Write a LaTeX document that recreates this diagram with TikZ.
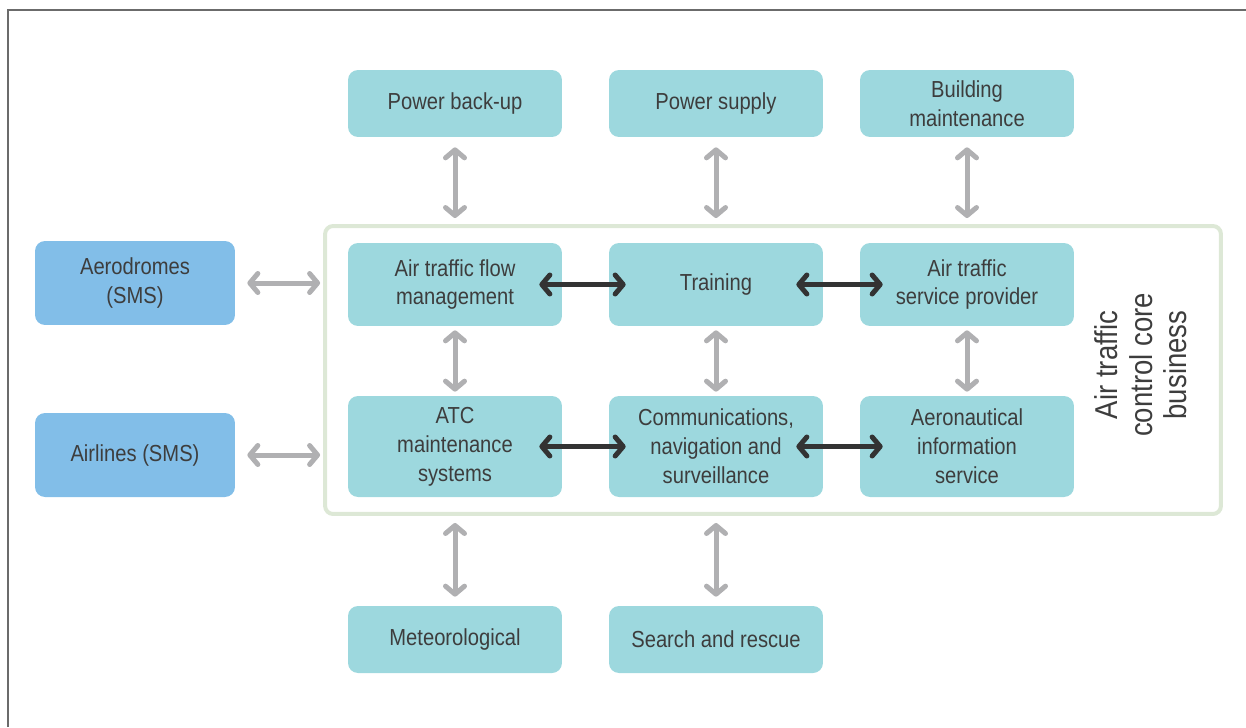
\documentclass[tikz,border=0pt]{standalone}
\usepackage{fontspec}
\setmainfont{Liberation Sans}[FakeStretch=0.87]
\usetikzlibrary{arrows.meta}

\definecolor{unitteal}{HTML}{9DD8DE}
\definecolor{partnerblue}{HTML}{82BEE8}
\definecolor{coregreen}{HTML}{DDE8D6}
\definecolor{linkgray}{HTML}{B0B0B2}
\definecolor{linkdark}{HTML}{333333}
\definecolor{textgray}{HTML}{3D3D3D}
\definecolor{framegray}{HTML}{6B6B6B}

\begin{document}
\begin{tikzpicture}[
  x=0.02cm, y=-0.02cm,
  every node/.style = {
    font=\fontsize{13.2}{16.4}\selectfont,
    text=textgray,
    align=center
  },
  unit/.style = {
    shape=rectangle,
    rounded corners=0.2cm,
    fill=unitteal,
    minimum width=4.28cm,
    inner sep=0pt
  },
  partner/.style = {unit, fill=partnerblue, minimum width=4cm, minimum height=1.68cm},
  core/.style = {
    shape=rectangle,
    rounded corners=0.16cm,
    draw=coregreen,
    line width=0.08cm,
    outer sep=0pt,
    minimum width=17.92cm,
    minimum height=5.76cm
  },
  link/.style = {
    draw=linkgray,
    line width=0.1cm,
    {Straight Barb[length=0.16cm, width=0.38cm, round]}-{Straight Barb[length=0.16cm, width=0.38cm, round]}
  },
  corelink/.style = {link, draw=linkdark}
]

\useasboundingbox (0,0) rectangle (1246,727);
\draw[framegray, line width=0.03cm] (8,727) -- (8,10) -- (1246,10);

\node[core] (core) at (773,370) {};
\node[rotate=90, font=\fontsize{18}{19.6}\selectfont] (corelabel) at (1141,365) {Air traffic\\control core\\business};

\node[unit, minimum height=1.34cm] (backup) at (455,103.5) {Power back-up};
\node[unit, minimum height=1.34cm] (supply) at (716,103.5) {Power supply};
\node[unit, minimum height=1.34cm] (building) at (967,103.5) {Building\\maintenance};

\node[unit, minimum height=1.66cm] (flow) at (455,284.5) {Air traffic flow\\management};
\node[unit, minimum height=1.66cm] (training) at (716,284.5) {Training};
\node[unit, minimum height=1.66cm] (atsp) at (967,284.5) {Air traffic\\service provider};

\node[unit, minimum height=2.02cm] (atcmaint) at (455,446.5) {ATC\\maintenance\\systems};
\node[unit, minimum height=2.02cm] (cns) at (716,446.5) {Communications,\\navigation and\\surveillance};
\node[unit, minimum height=2.02cm] (ais) at (967,446.5) {Aeronautical\\information\\service};

\node[unit, minimum height=1.34cm] (met) at (455,639.5) {Meteorological};
\node[unit, minimum height=1.34cm] (sar) at (716,639.5) {Search and rescue};

\node[partner] (aero) at (135,283) {Aerodromes\\(SMS)};
\node[partner] (airlines) at (135,455) {Airlines (SMS)};

\draw[link, shorten <=0.2cm, shorten >=0.16cm] (backup) -- (backup |- core.north);
\draw[link, shorten <=0.2cm, shorten >=0.16cm] (supply) -- (supply |- core.north);
\draw[link, shorten <=0.2cm, shorten >=0.16cm] (building) -- (building |- core.north);

\draw[link, shorten <=0.08cm, shorten >=0.08cm] (flow) -- (atcmaint);
\draw[link, shorten <=0.08cm, shorten >=0.08cm] (training) -- (cns);
\draw[link, shorten <=0.08cm, shorten >=0.08cm] (atsp) -- (ais);

\draw[link, shorten <=0.18cm, shorten >=0.18cm] (met |- core.south) -- (met);
\draw[link, shorten <=0.18cm, shorten >=0.18cm] (sar |- core.south) -- (sar);

\draw[link, shorten <=0.24cm, shorten >=0.1cm] (aero) -- (core.west |- aero);
\draw[link, shorten <=0.24cm, shorten >=0.1cm] (airlines) -- (core.west |- airlines);

\draw[corelink, shorten <=-0.46cm, shorten >=-0.34cm] (flow) -- (training);
\draw[corelink, shorten <=-0.54cm, shorten >=-0.46cm] (training) -- (atsp);
\draw[corelink, shorten <=-0.46cm, shorten >=-0.34cm] (atcmaint) -- (cns);
\draw[corelink, shorten <=-0.54cm, shorten >=-0.46cm] (cns) -- (ais);

\end{tikzpicture}
\end{document}
